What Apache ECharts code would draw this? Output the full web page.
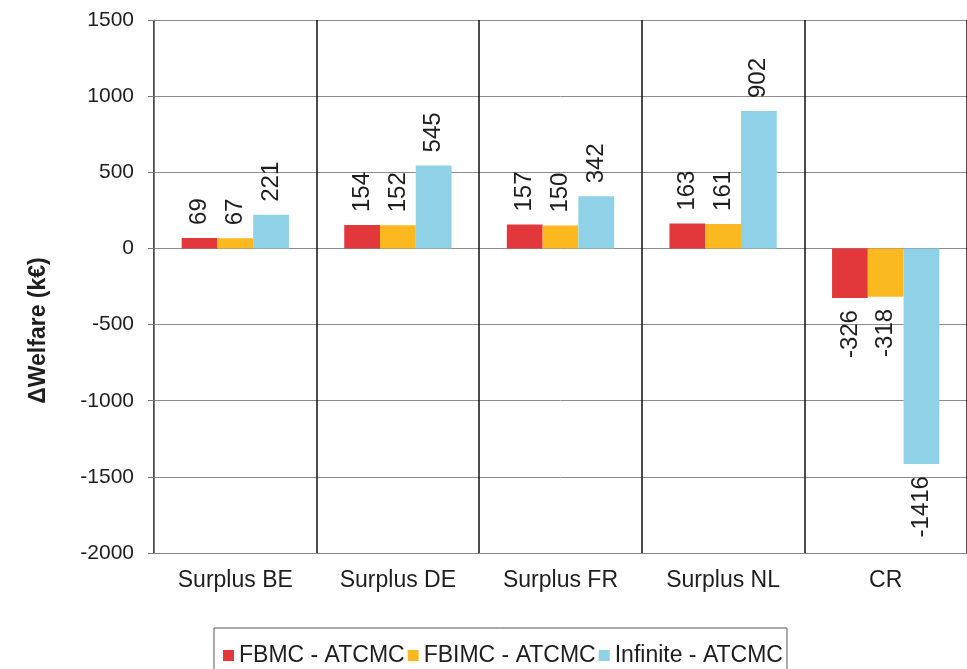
<!DOCTYPE html>
<html>
<head>
<meta charset="utf-8">
<script src="https://cdn.jsdelivr.net/npm/echarts@6/dist/echarts.min.js"></script>
<style>
  html, body { margin: 0; padding: 0; background: #ffffff; }
  #chart { width: 967px; height: 669px; }
</style>
</head>
<body>
<div id="chart"></div>
<script>
// Welfare change per market zone, three scenarios compared with ATCMC
const categories = ['Surplus BE', 'Surplus DE', 'Surplus FR', 'Surplus NL', 'CR'];
const seriesNames = ['FBMC - ATCMC', 'FBIMC - ATCMC', 'Infinite - ATCMC'];
const fbmcValues = [69, 154, 157, 163, -326];
const fbimcValues = [67, 152, 150, 161, -318];
const infiniteValues = [221, 545, 342, 902, -1416];
const yMin = -2000;
const yMax = 1500;
const yStep = 500;

const FONT = "'Liberation Sans', Arial, sans-serif";
const TEXT = '#1e1e1e';
const colors = ['#e2383c', '#fbb81f', '#8fd2e7'];

// Labels sit beyond the bar end, rotated to read upwards
function withLabels(values) {
  return values.map(v => ({
    value: v,
    label: v >= 0
      ? { position: 'top', rotate: 90, align: 'left', verticalAlign: 'middle', distance: 13 }
      : { position: 'bottom', rotate: 90, align: 'right', verticalAlign: 'middle', distance: 12 }
  }));
}

const allValues = [fbmcValues, fbimcValues, infiniteValues];

const chart = echarts.init(document.getElementById('chart'), null, { renderer: 'canvas' });
chart.setOption({
  backgroundColor: '#ffffff',
  animation: false,
  color: colors,
  textStyle: { fontFamily: FONT },
  grid: { left: 154, right: 0, top: 20, bottom: 116, containLabel: false },
  legend: {
    data: seriesNames,
    left: 214,
    top: 628,
    icon: 'rect',
    itemWidth: 11,
    itemHeight: 11,
    itemGap: 3,
    borderColor: '#555555',
    borderWidth: 1,
    padding: [16, 4, 16, 9],
    textStyle: { fontFamily: FONT, fontSize: 23, color: TEXT }
  },
  xAxis: {
    type: 'category',
    data: categories,
    axisLine: { show: true, onZero: false, lineStyle: { color: '#888888', width: 1 } },
    axisTick: { show: false },
    axisLabel: { fontFamily: FONT, fontSize: 23, color: TEXT, margin: 16 },
    splitLine: { show: true, interval: 0, lineStyle: { color: '#111111', width: 1.5 } }
  },
  yAxis: {
    type: 'value',
    min: yMin,
    max: yMax,
    interval: yStep,
    name: 'ΔWelfare (k€)',
    nameLocation: 'middle',
    nameGap: 104,
    nameTextStyle: { fontFamily: FONT, fontSize: 23, fontWeight: 'bold', color: TEXT, padding: [0, 88, 0, 0] },
    axisLine: { show: true, lineStyle: { color: '#777777', width: 1 } },
    axisTick: { show: true, length: 6, lineStyle: { color: '#777777' } },
    axisLabel: { fontFamily: FONT, fontSize: 21, color: TEXT, margin: 20, formatter: v => String(v) },
    splitLine: { show: true, lineStyle: { color: '#8c8c8c', width: 1 } }
  },
  series: seriesNames.map((name, i) => ({
    name: name,
    type: 'bar',
    barGap: '0%',
    barCategoryGap: '34%',
    data: withLabels(allValues[i]),
    label: { show: true, fontFamily: FONT, fontSize: 24, color: TEXT },
    itemStyle: { color: colors[i] }
  }))
});
</script>
</body>
</html>
